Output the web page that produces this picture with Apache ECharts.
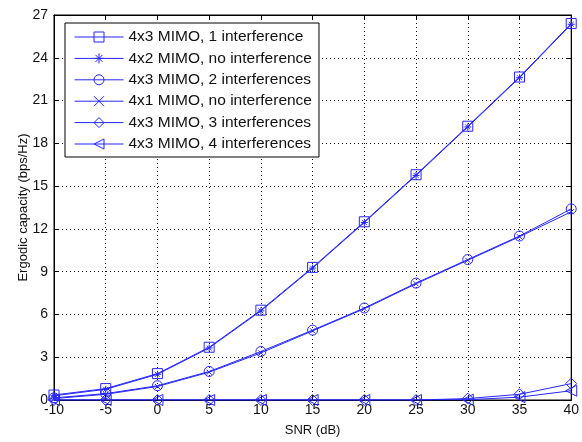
<!doctype html>
<html lang="en">
<head>
<meta charset="UTF-8">
<title>Ergodic capacity</title>
<style>
  html, body { margin: 0; padding: 0; background: #fff; }
  #main { width: 582px; height: 442px; }
</style>
<script src="https://cdn.jsdelivr.net/npm/echarts@6/dist/echarts.min.js"></script>
</head>
<body>
<div id="main"></div>
<script>
// SNR points (dB)
var snr = [-10, -5, 0, 5, 10, 15, 20, 25, 30, 35, 40];
// capacity values (bps/Hz)
var mimo43_1int  = [0.35, 0.8, 1.85, 3.7, 6.3, 9.3, 12.5, 15.8, 19.2, 22.65, 26.4];
var mimo42_noint = [0.3, 0.75, 1.8, 3.65, 6.25, 9.25, 12.45, 15.75, 19.15, 22.6, 26.35];
var mimo43_2int  = [0.15, 0.45, 1.0, 2.0, 3.4, 4.9, 6.45, 8.2, 9.85, 11.5, 13.4];
var mimo41_noint = [0.1, 0.4, 0.95, 1.95, 3.3, 4.85, 6.4, 8.15, 9.8, 11.45, 13.2];
var mimo43_3int  = [0, 0, 0, 0, 0, 0, 0, 0, 0.1, 0.4, 1.15];
var mimo43_4int  = [0, 0, 0, 0, 0, 0, 0, 0, 0.02, 0.2, 0.65];
var names = ['4x3 MIMO, 1 interference', '4x2 MIMO, no interference', '4x3 MIMO, 2 interferences',
             '4x1 MIMO, no interference', '4x3 MIMO, 3 interferences', '4x3 MIMO, 4 interferences'];

var blue = '#2626ff';
var star = 'path://M5,0 L5,10 M0,5 L10,5 M1.5,1.5 L8.5,8.5 M8.5,1.5 L1.5,8.5';
var cross = 'path://M0,0 L10,10 M10,0 L0,10';

function pairs(ys) {
    var out = [];
    for (var i = 0; i < snr.length; i++) out.push([snr[i], ys[i]]);
    return out;
}
function mk(name, ys, symbol, size, rotate) {
    return {
        name: name,
        type: 'line',
        data: pairs(ys),
        symbol: symbol,
        symbolSize: size,
        symbolRotate: rotate || 0,
        showAllSymbol: true,
        lineStyle: { color: blue, width: 1 },
        itemStyle: { color: 'rgba(255,255,255,0)', borderColor: blue, borderWidth: 1 },
        emphasis: { disabled: true },
        animation: false
    };
}

var fontFam = '"Liberation Sans", Arial, sans-serif';
var tick = { show: true, inside: true, length: 5, lineStyle: { color: '#000' } };
var chart = echarts.init(document.getElementById('main'));
chart.setOption({
    animation: false,
    textStyle: { fontFamily: fontFam },
    grid: { left: 54, right: 7, top: 15, bottom: 42, show: true, borderColor: '#000', borderWidth: 1, backgroundColor: '#fff' },
    legend: {
        orient: 'vertical',
        left: 65, top: 23,
        padding: [6, 7, 5, 9],
        itemWidth: 49, itemHeight: 12.5, itemGap: 5.4,
        backgroundColor: '#fff', borderColor: '#000', borderWidth: 1, borderRadius: 0,
        lineStyle: { width: 1 },
        itemStyle: { borderWidth: 1 },
        textStyle: { fontSize: 15.5, color: '#111', fontFamily: fontFam },
        data: names
    },
    xAxis: [{
        type: 'value', min: -10, max: 40, interval: 5,
        name: 'SNR (dB)', nameLocation: 'middle', nameGap: 24, nameMoveOverlap: false,
        nameTextStyle: { fontSize: 13, color: '#111' },
        axisLine: { show: true, onZero: false, lineStyle: { color: '#000' } },
        axisTick: tick,
        axisLabel: { fontSize: 14, color: '#111', margin: 3 },
        splitLine: { show: true, lineStyle: { color: '#000', type: [1, 3] } }
    }, {
        type: 'value', position: 'top', min: -10, max: 40, interval: 5,
        axisLine: { show: true, onZero: false, lineStyle: { color: '#000' } },
        axisTick: tick,
        axisLabel: { show: false }, splitLine: { show: false }
    }],
    yAxis: [{
        type: 'value', min: 0, max: 27, interval: 3,
        name: 'Ergodic capacity (bps/Hz)', nameLocation: 'middle', nameGap: 24, nameMoveOverlap: false,
        nameTextStyle: { fontSize: 13, color: '#111' },
        axisLine: { show: true, onZero: false, lineStyle: { color: '#000' } },
        axisTick: tick,
        axisLabel: { fontSize: 14, color: '#111', margin: 6 },
        splitLine: { show: true, lineStyle: { color: '#000', type: [1, 3] } }
    }, {
        type: 'value', position: 'right', min: 0, max: 27, interval: 3,
        axisLine: { show: true, onZero: false, lineStyle: { color: '#000' } },
        axisTick: tick,
        axisLabel: { show: false }, splitLine: { show: false }
    }],
    series: [
        mk(names[0], mimo43_1int, 'rect', 10),
        mk(names[1], mimo42_noint, star, 7),
        mk(names[2], mimo43_2int, 'circle', 10),
        mk(names[3], mimo41_noint, cross, 5),
        mk(names[4], mimo43_3int, 'diamond', 11),
        mk(names[5], mimo43_4int, 'triangle', 11, 90)
    ]
});
</script>
</body>
</html>
